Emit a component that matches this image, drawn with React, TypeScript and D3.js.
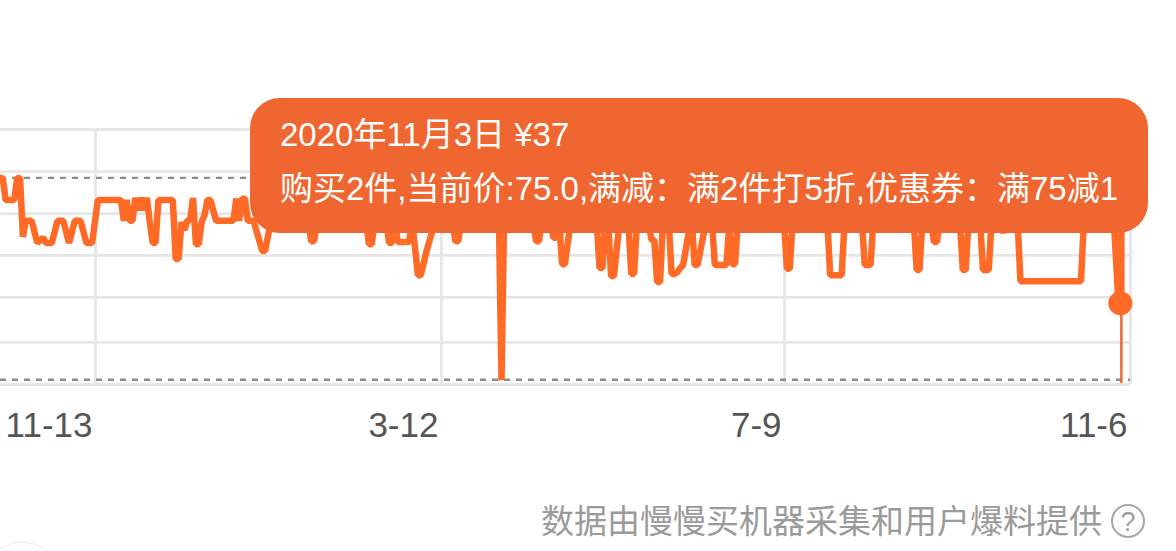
import { useEffect, useRef } from 'react'
import * as d3 from 'd3'

const W = 1176, H = 551
const FONT = '"Liberation Sans", "Noto Sans CJK SC", sans-serif'
const LINE = '#ff6a26'

// days since 2019-11-13, only where the price changes
const priceDays = [
  -33, -32, -31, -28, -27, -26, -25, -24, -22, -20, -18, -17, -15, -13, -11, -9, -7, -5, -3, -1, 1, 9,
  10, 11, 12, 13, 14, 15, 16, 17, 18, 19, 20, 21, 22, 27, 28, 29, 30, 31, 32, 33, 34, 35, 36, 37, 38, 39, 40, 42, 48,
  49, 50, 51, 52, 53, 55, 58, 59, 61,
  74, 75, 76, 77, 94, 95, 96, 97, 101, 102, 103, 104, 105, 109, 110, 112, 113, 115, 117, 118,
  124, 125, 126, 127, 140, 141, 142, 143, 152, 153, 154, 155, 158, 159, 160, 161, 162, 163, 165,
  174, 175, 176, 177, 178, 179, 180, 182, 185, 186, 187, 188, 192, 193, 194, 195, 196, 197, 199,
  200, 201, 202, 203, 204, 206, 207, 208, 209, 212, 214, 215, 219, 220, 221, 222, 223,
  239, 240, 241, 242, 254, 255, 259, 260, 266, 267, 269, 270, 284, 285, 286, 287, 290, 291, 292, 293,
  300, 301, 302, 303, 307, 308, 310, 311, 314, 315, 316, 320, 321, 342, 343, 352, 353, 355, 356, 356,
]
const priceValues = [
  84.5, 84.5, 79.3, 79.3, 84.5, 84.5, 70.6, 74.4, 74.4, 69.2, 70.4, 69.2, 69.2, 74.4, 74.4, 69.2, 74.4, 74.4, 69.2, 69.2, 79.3, 79.3,
  74.4, 79.3, 74.4, 74.4, 79.8, 76.9, 79.8, 76.9, 79.8, 74.1, 69.2, 69.2, 79.3, 79.3, 65.4, 65.4, 74.1, 72.2, 74.4, 74.6, 79.8, 68.9, 68.9, 74.1, 75.8, 79.3, 79.3, 74.4, 74.4,
  79.6, 74.4, 79.6, 79.6, 74.4, 74.4, 67.3, 67.3, 74.4,
  74.4, 69.6, 69.6, 74.4, 74.4, 68.9, 68.9, 74.4, 74.4, 69.2, 69.2, 74.4, 69.4, 69.4, 74.4, 61.6, 61.6, 67.3, 72, 75.8,
  74.4, 69.6, 69.6, 74.4, 79.3, 36.9, 79.3, 74.4, 74.4, 69.6, 69.6, 74.4, 74.4, 70.4, 70.4, 74.4, 64.2, 64.2, 74.4,
  74.4, 63.3, 63.3, 74.4, 74.4, 61.4, 61.4, 74.4, 74.4, 61.9, 61.9, 74.4, 74.4, 69.9, 69.9, 60, 60, 74.4, 74.4,
  61.9, 61.9, 62.3, 63.3, 64, 71.9, 74.4, 64, 64, 74.4, 74.4, 64, 64, 73.4, 64.2, 64.2, 74.4,
  74.4, 63.1, 63.1, 74.4, 74.4, 61.6, 61.6, 74.4, 74.4, 64, 64, 74.4, 74.4, 62.8, 62.8, 74.4, 74.4, 69.4, 69.4, 74.4,
  74.4, 62.8, 62.8, 74.4, 74.4, 62.8, 62.8, 74.4, 74.4, 71.5, 74.4, 74.4, 60.2, 60.2, 74.4, 74.4, 79.3, 55, 55, 79.3,
]

const tickDates = ['2019-11-13', '2020-03-12', '2020-07-09', '2020-11-06']
const tickLabels = ['11-13', '3-12', '7-9', '11-6']
const gridPrices = [36, 45.9, 56.5, 66.4, 76.2, 86.1, 96]
const priceMax = 84.5, priceMin = 37
const hoverDate = '2020-11-03', hoverPrice = 55

const tipLines = ['2020年11月3日 ¥37', '购买2件,当前价:75.0,满减：满2件打5折,优惠券：满75减1']
const footer = '数据由慢慢买机器采集和用户爆料提供'

const parse = d3.utcParse('%Y-%m-%d')

export default function App() {
  const svgRef = useRef<SVGSVGElement>(null)

  useEffect(() => {
    const svg = d3.select(svgRef.current!)
    svg.selectAll('*').remove()

    const start = parse(tickDates[0])!
    const x = d3.scaleUtc().domain([start, parse(tickDates[3])!]).range([95, 1130])
    const y = d3.scaleLinear().domain([36, 96]).range([384, 129])
    const ticks = tickDates.map(d => parse(d)!)

    // Grid
    svg.append('g').attr('transform', 'translate(0,384)').call(
      d3.axisBottom(x).tickValues(ticks).tickSize(-255).tickSizeOuter(0)
        .tickFormat((_, i) => tickLabels[i])
    )
      .call(g => g.select('.domain').remove())
      .call(g => g.selectAll('.tick line').attr('stroke', '#e6e6e6').attr('stroke-width', 2.8))
      .call(g => g.selectAll('.tick text')
        .attr('font-size', 35).attr('font-family', FONT).attr('fill', '#555')
        .attr('text-anchor', 'end').attr('dx', -3).attr('y', 0).attr('dy', 53))

    svg.append('g').attr('transform', 'translate(1130,0)').call(
      d3.axisLeft(y).tickValues(gridPrices).tickSize(1130).tickSizeOuter(0).tickFormat(() => '')
    )
      .call(g => g.select('.domain').remove())
      .call(g => g.selectAll('.tick line').attr('stroke', '#e6e6e6').attr('stroke-width', 2.8))

    // Max / min dashed lines
    ;[priceMax, priceMin].forEach(p => {
      svg.append('line').attr('x1', 0).attr('x2', 1130).attr('y1', y(p)).attr('y2', y(p))
        .attr('stroke', '#8c8c8c').attr('stroke-width', 2.4).attr('stroke-dasharray', '6 6')
    })

    // Price line
    const points = priceDays.map((d, i) => [d3.utcDay.offset(start, d), priceValues[i]] as [Date, number])
    const line = d3.line<[Date, number]>().x(d => x(d[0])).y(d => y(d[1]))
    svg.append('path').datum(points)
      .attr('fill', 'none')
      .attr('stroke', LINE)
      .attr('stroke-width', 6.5)
      .attr('stroke-linejoin', 'bevel')
      .attr('d', line)

    // Hover marker
    const hx = x(parse(hoverDate)!)
    svg.append('line').attr('x1', hx).attr('x2', hx).attr('y1', y(hoverPrice)).attr('y2', 383)
      .attr('stroke', '#ea6a35').attr('stroke-width', 2.5)
    svg.append('circle').attr('cx', hx - 1).attr('cy', y(hoverPrice)).attr('r', 12).attr('fill', LINE)

    // Tooltip
    svg.append('rect').attr('x', 250).attr('y', 98).attr('width', 898).attr('height', 135)
      .attr('rx', 30).attr('fill', '#ef6630')
    tipLines.forEach((t, i) => {
      svg.append('text').attr('x', 280).attr('y', 146 + i * 54)
        .attr('font-size', 33).attr('font-family', FONT).attr('fill', '#fff').text(t)
    })

    // Footer
    svg.append('text').attr('x', 1102).attr('y', 533).attr('text-anchor', 'end')
      .attr('font-size', 33).attr('font-family', FONT).attr('fill', '#9a9a9a').text(footer)
    svg.append('circle').attr('cx', 1128).attr('cy', 521).attr('r', 16)
      .attr('fill', 'none').attr('stroke', '#a6a6a6').attr('stroke-width', 2)
    svg.append('text').attr('x', 1128).attr('y', 531).attr('text-anchor', 'middle')
      .attr('font-size', 27).attr('font-family', FONT).attr('fill', '#a0a0a0').text('?')

    // faint arc, bottom left corner
    svg.append('circle').attr('cx', 22).attr('cy', 582).attr('r', 40)
      .attr('fill', 'none').attr('stroke', '#f6e9e2').attr('stroke-width', 1)
  }, [])

  return (
    <svg
      ref={svgRef}
      width={W}
      height={H}
      viewBox={`0 0 ${W} ${H}`}
      style={{ position: 'fixed', left: 0, top: 0, display: 'block', background: '#fff' }}
    />
  )
}
